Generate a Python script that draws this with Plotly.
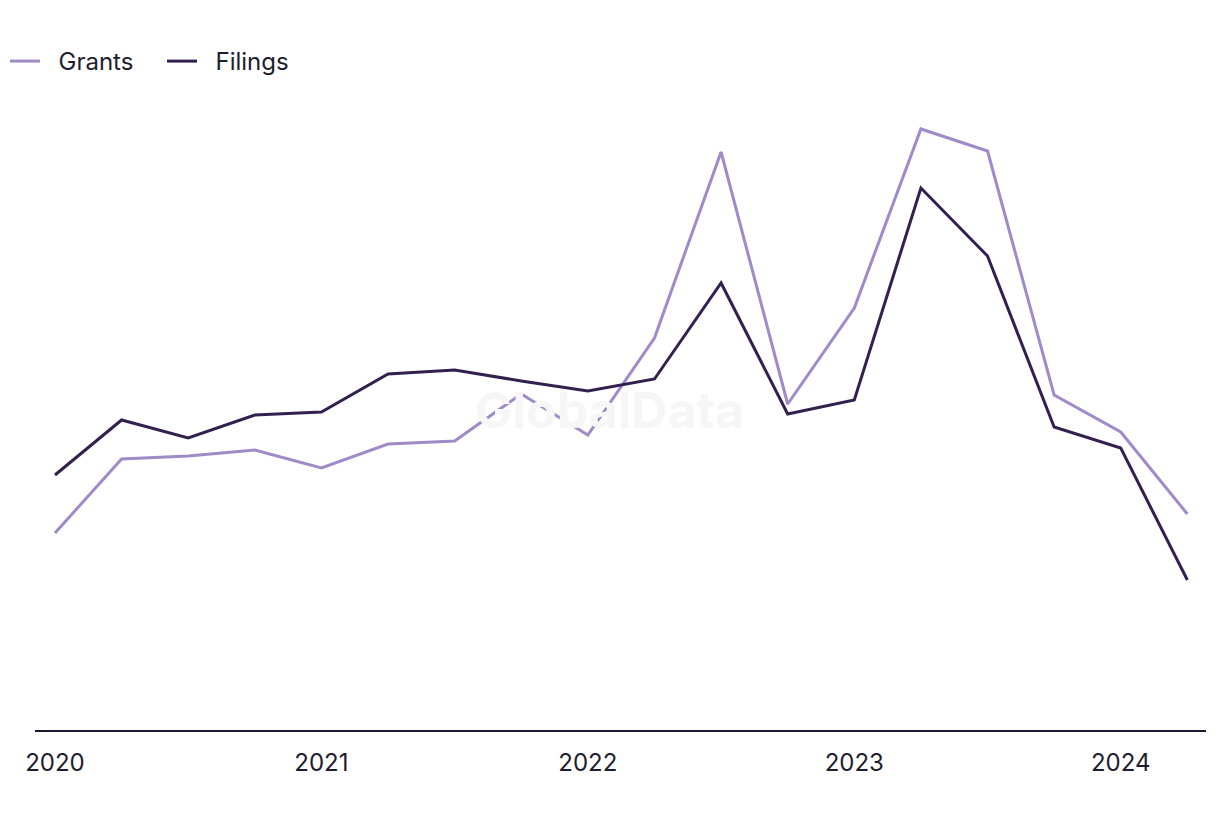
import plotly.graph_objects as go

quarters = ["2020 Q1", "2020 Q2", "2020 Q3", "2020 Q4", "2021 Q1", "2021 Q2", "2021 Q3", "2021 Q4",
            "2022 Q1", "2022 Q2", "2022 Q3", "2022 Q4", "2023 Q1", "2023 Q2", "2023 Q3", "2023 Q4",
            "2024 Q1", "2024 Q2"]
grants = [197, 271, 274, 280, 262, 286, 289, 336, 295, 392, 578, 326, 422, 601, 579, 335, 298, 216]
filings = [255, 310, 292, 315, 318, 356, 360, 349, 339, 351, 447, 316, 330, 542, 474, 303, 282, 150]
tick_idx = [0, 4, 8, 12, 16]
tick_labels = ["2020", "2021", "2022", "2023", "2024"]
series_names = ["Grants", "Filings"]

x = list(range(len(quarters)))
pad = "\u00a0\u00a0"

fig = go.Figure()
fig.add_trace(go.Scatter(x=x, y=grants, mode="lines", name=pad + series_names[0],
                         line=dict(color="#a08ac8", width=3), text=quarters,
                         hovertemplate="%{text}: %{y}<extra>Grants</extra>"))
fig.add_trace(go.Scatter(x=x, y=filings, mode="lines", name=pad + series_names[1],
                         line=dict(color="#34204f", width=3), text=quarters,
                         hovertemplate="%{text}: %{y}<extra>Filings</extra>"))

fig.add_annotation(text="GlobalData", xref="paper", yref="paper", x=0.491, y=0.508,
                   showarrow=False, font=dict(family="Inter", size=50, color="#f6f6f6", weight="bold"))

fig.update_layout(
    width=1220, height=820,
    margin=dict(l=35, r=14, t=100, b=90, autoexpand=False),
    paper_bgcolor="white", plot_bgcolor="white",
    font=dict(family="Inter", color="#1e1c2e"),
    showlegend=True,
    legend=dict(orientation="h", xref="container", yref="container", x=5 / 1220, y=0.925,
                xanchor="left", yanchor="middle",
                font=dict(size=24, color="#1e1c2e"), itemwidth=30,
                entrywidth=112, entrywidthmode="pixels", traceorder="normal"),
    xaxis=dict(range=[-0.30, 17.28], tickvals=tick_idx, ticktext=tick_labels,
               showgrid=False, zeroline=False, showline=True, linecolor="#1a1a2e", linewidth=2,
               ticks="outside", ticklen=10, tickcolor="rgba(0,0,0,0)",
               tickfont=dict(size=24, color="#1e1c2e")),
    yaxis=dict(range=[0, 630], visible=False, showgrid=False, zeroline=False),
)

fig.write_html("out.html", config={"displayModeBar": False},
               post_script="document.body.style.margin='0';")
